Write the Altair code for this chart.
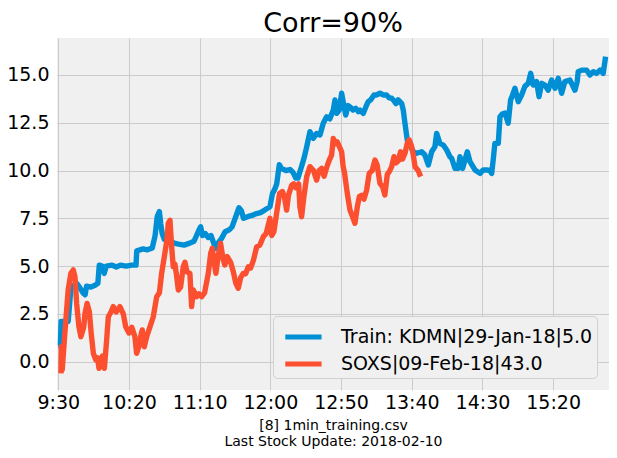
import altair as alt
import pandas as pd

# minutes after 9:30 and price values
blue_min = [0, 1.5, 2, 7, 9, 11, 13, 15, 17.5, 19, 20, 23, 26, 28, 29, 31, 32.5, 34, 38, 41, 44, 48, 52, 55,
            55.5, 60, 63, 66.5, 68.5, 70, 71.5, 72.5, 73.5, 75, 77, 79, 82, 85, 89, 93, 96, 99.5, 100.7, 102,
            104, 106, 108, 110, 111.5, 113, 115.5, 118, 121, 123, 125.5, 127.8, 129.5, 131, 134.4, 137, 140.3,
            143, 146, 149.7, 151.5, 153, 154.5, 156.3, 158, 161, 164, 166, 168, 169.5, 172, 174, 175.7, 178,
            180.4, 182.7, 185.1, 187.4, 189.8, 192, 194.5, 195.7, 196.9, 198.7, 200.4, 202, 203.3, 205, 206.7,
            208.5, 210.4, 212.2, 213.4, 215.7, 217.6, 219.2, 220.9, 223.3, 225.2, 227.5, 229.8, 232.2, 234.1,
            235.8, 237.4, 238.8, 240.4, 242.9, 244, 245.2, 246.8, 248.7, 251.1, 253.5, 257, 259.3, 261.7,
            264.1, 266.4, 267.6, 269.9, 272.3, 274.7, 277, 278.2, 280.6, 282.9, 284.1, 286, 287.6, 289.3,
            291.2, 294.7, 298.3, 300.6, 303, 305.3, 306.5, 307.6, 308.8, 311.2, 312.4, 314, 316, 318.2, 319.9,
            321.3, 323, 325.3, 327.7, 330, 332.4, 334.1, 335.9, 338.3, 340, 341.9, 344.2, 346.5, 348.9, 351.3,
            353.6, 356, 358.3, 361.9, 365.4, 367, 367.7, 370.2, 373.7, 376, 378.4, 380.7, 383.1, 385.4, 387.1]
blue_val = [0.85, 0.85, 2.1, 2.1, 3.9, 4.0, 4.1, 3.9, 3.6, 3.5, 3.95, 3.9, 4.0, 4.1, 5.05, 5.0, 4.62, 5.0, 5.05,
            4.95, 5.05, 5.0, 5.05, 5.05, 5.8, 5.9, 5.85, 5.95, 6.6, 7.6, 7.85, 7.2, 6.7, 6.4, 6.6, 6.3, 6.2, 6.15,
            6.1, 6.2, 6.3, 6.89, 7.06, 6.6, 6.7, 6.5, 6.6, 6.19, 5.93, 6.2, 6.45, 6.8, 6.9, 7.06, 7.58, 8.05, 7.9,
            7.5, 7.6, 7.65, 7.75, 7.8, 7.93, 8.1, 8.8, 9.0, 9.3, 10.3, 10.1, 10.0, 10.05, 9.9, 9.6, 9.6, 10.2,
            10.7, 11.24, 12.03, 11.68, 11.94, 11.86, 12.47, 12.81, 12.7, 13.16, 13.69, 12.99, 13.16, 14.04, 13.4,
            12.9, 13.4, 13.3, 13.16, 13.25, 13.08, 13.16, 12.99, 13.34, 13.6, 13.69, 13.95, 13.95, 14.04, 13.95,
            13.95, 13.8, 13.78, 13.65, 13.5, 13.7, 13.5, 13.16, 12.47, 11.6, 11.33, 10.98, 10.9, 10.98, 10.81,
            10.29, 10.98, 11.25, 11.94, 11.42, 11.33, 11.07, 10.72, 10.64, 10.11, 10.11, 10.72, 10.11, 10.55,
            10.98, 10.46, 10.03, 9.85, 10.03, 10.03, 10.0, 9.85, 10.55, 11.42, 11.42, 12.81, 12.95, 13.0, 12.47,
            13.69, 13.95, 14.3, 13.6, 13.95, 14.4, 14.56, 15.08, 14.47, 14.65, 13.86, 14.56, 14.47, 14.2, 14.73,
            14.3, 14.82, 14.04, 14.65, 14.73, 14.2, 14.65, 15.17, 15.25, 15.25, 14.99, 15.17, 15.08, 15.25,
            15.08, 15.95]

red_min = [1.9, 2.2, 2.8, 4.3, 5.9, 7, 8.9, 10.6, 11.8, 13, 14.6, 16, 18, 18.9, 20.4, 22, 23.3, 24.8, 26.5, 27.8,
           28.8, 30.2, 31.2, 32.6, 34.2, 35.4, 37.3, 38.9, 41, 43.6, 46, 47.7, 50, 52, 54.2, 55.4, 57, 58.5,
           59.4, 60.8, 62.5, 64.9, 67.2, 69.6, 71.5, 73.1, 75, 76.7, 77.8, 79, 80.2, 81.3, 82.5, 83.5, 84.9,
           86.5, 88.4, 89.6, 91, 93.1, 94.3, 95.5, 97.9, 99.5, 101.4, 103.5, 106.1, 107.8, 108.9, 110, 111.5,
           113, 114.8, 116.5, 117.8, 119.5, 121.9, 123.8, 125.6, 127.3, 129, 130.8, 132.5, 134.4, 136, 138,
           140.3, 142.6, 145, 147, 149.7, 151, 152.5, 154.5, 156.5, 158.5, 160, 161.5, 162.8, 165.1, 166.5,
           168, 170, 170.9, 172.1, 173.5, 175.7, 178, 180.5, 182.7, 184.5, 186.3, 188, 190, 191.7, 193.3,
           194.5, 196, 197.3, 198.5, 200.4, 201.5, 202.5, 204.4, 206.3, 208, 209.8, 211.5, 212.9, 214.5,
           216.2, 218.1, 219.9, 222, 224, 225.5, 227.5, 229.4, 231, 232.7, 234.1, 235.8, 237.4, 238.8, 240.4,
           242.1, 243.5, 245.2, 246.8, 248.2, 249.8, 251.1, 252.3, 254.5, 256.3]
red_val = [-0.61, 0.78, -0.43, 1.13, 2.7, 3.75, 4.62, 4.8, 4.45, 3.05, 1.83, 1.31, 1.8, 2.53, 3.05, 2.6, 1.48,
           0.44, 0.1, 0.2, -0.35, 0.1, 0.3, -0.35, 1.13, 2.35, 2.6, 2.88, 2.6, 2.88, 2.5, 1.83, 1.5, 1.8, 1.31,
           0.44, 0.8, 1.4, 1.66, 0.78, 1.3, 1.83, 2.35, 3.4, 3.6, 4.62, 5.49, 6.3, 7.24, 7.4, 6.0, 4.97, 5.1,
           4.6, 3.75, 3.9, 4.97, 5.2, 4.7, 4.62, 2.88, 3.75, 3.4, 3.55, 3.4, 3.6, 4.62, 5.67, 5.93, 5.3, 4.62,
           5.5, 6.19, 5.4, 5.06, 5.5, 5.2, 4.7, 4.1, 3.84, 4.4, 4.62, 4.6, 4.97, 4.9, 5.3, 6.01, 6.1, 6.54,
           6.7, 7.5, 6.6, 6.8, 7.8, 8.8, 8.9, 8.6, 7.93, 8.7, 9.24, 9.3, 9.1, 9.3, 8.1, 7.58, 8.5, 9.68, 10.2,
           10.0, 9.5, 10.0, 10.11, 9.7, 10.2, 10.55, 10.8, 11.68, 11.4, 11.5, 11.3, 10.98, 10.2, 9.85, 8.81,
           7.93, 7.6, 7.24, 8.1, 8.63, 8.7, 8.5, 8.98, 9.85, 10.0, 10.55, 10.3, 9.33, 9.15, 8.72, 9.8, 9.94,
           10.2, 10.72, 10.4, 10.5, 10.98, 10.6, 10.9, 11.42, 11.6, 11.3, 10.81, 10.2, 10.0, 9.68]

series_names = ["Train: KDMN|29-Jan-18|5.0", "SOXS|09-Feb-18|43.0"]
series_colors = ["#008fd5", "#fc4f30"]
title_text = "Corr=90%"
x_title = ["[8] 1min_training.csv", "Last Stock Update: 2018-02-10"]
x_ticks = [0, 50, 100, 150, 200, 250, 300, 350]
y_ticks = [0, 2.5, 5, 7.5, 10, 12.5, 15]

blue_df = pd.DataFrame({"minute": blue_min, "value": blue_val, "series": series_names[0]})
red_df = pd.DataFrame({"minute": red_min, "value": red_val, "series": series_names[1]})

FONT = "DejaVu Sans"

x_enc = alt.X("minute:Q",
              scale=alt.Scale(domain=[-0.9, 389.5], nice=False, zero=False),
              axis=alt.Axis(values=x_ticks, title=x_title,
                            labelExpr="floor((datum.value + 570) / 60) + ':' + (((datum.value + 570) % 60) < 10 ? '0' : '') + ((datum.value + 570) % 60)",
                            grid=True, gridColor="#cbcbcb", gridWidth=1, domain=False, ticks=False,
                            labelFontSize=19, labelFont=FONT, labelColor="#000000", labelPadding=3,
                            labelFlush=False,
                            titleFont=FONT, titleFontSize=14, titleFontWeight="normal", titleColor="#000000",
                            titleLineHeight=16, titlePadding=6))
y_enc = alt.Y("value:Q",
              scale=alt.Scale(domain=[-1.48, 16.93], nice=False, zero=False),
              axis=alt.Axis(values=y_ticks, format=".1f", title=None,
                            grid=True, gridColor="#cbcbcb", gridWidth=1, domain=False, ticks=False,
                            labelFontSize=19, labelFont=FONT, labelColor="#000000", labelPadding=8))
color_enc = alt.Color("series:N",
                      scale=alt.Scale(domain=series_names, range=series_colors),
                      legend=alt.Legend(title=None, orient="bottom-right", offset=12,
                                        symbolType="M-0.6,0L1.9,0", symbolSize=841, symbolStrokeWidth=5,
                                        labelFontSize=19, labelFont=FONT, labelColor="#000000",
                                        labelOffset=30, rowPadding=0, padding=4,
                                        fillColor="#f0f0f0", strokeColor="#d0d0d0", cornerRadius=4,
                                        labelLimit=400))

blue_line = alt.Chart(blue_df).mark_line(strokeWidth=5.4, strokeJoin="round", strokeCap="butt").encode(
    x=x_enc, y=y_enc, color=color_enc, order="minute:Q")
red_line = alt.Chart(red_df).mark_line(strokeWidth=5.4, strokeJoin="round", strokeCap="butt").encode(
    x=x_enc, y=y_enc, color=color_enc, order="minute:Q")

chart = alt.layer(blue_line, red_line).properties(
    width=552, height=352,
    title=alt.TitleParams(title_text, fontSize=27, font=FONT, fontWeight="normal", color="#000000",
                          anchor="middle", offset=0),
    autosize=alt.AutoSizeParams(type="none"),
    padding={"left": 49, "top": 30, "right": 0, "bottom": 60},
    background="white",
).configure_view(fill="#f0f0f0", strokeWidth=0)

chart.save("out.html", embed_options={"renderer": "svg", "actions": False})
